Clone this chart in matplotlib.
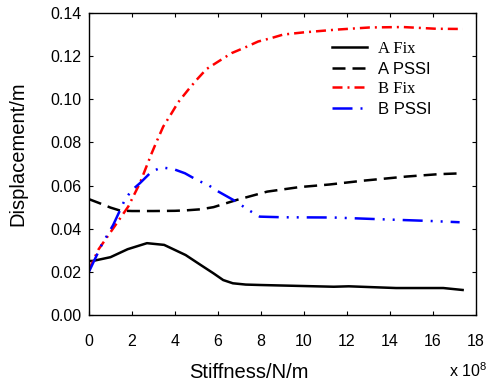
import matplotlib
matplotlib.use("Agg")
import matplotlib.pyplot as plt

plt.rcParams['font.family'] = ['Liberation Sans', 'DejaVu Sans']
plt.rcParams['mathtext.fontset'] = 'custom'
plt.rcParams['mathtext.rm'] = 'Liberation Sans'
plt.rcParams['mathtext.it'] = 'Liberation Sans'

# stiffness in units of 1e8 N/m, displacement in m
a_fix_x = [0, 0.2, 1.0, 1.8, 2.7, 3.5, 4.5, 5.2, 5.8, 6.25, 6.7, 7.3, 8.0, 9.7, 11.4, 12.1, 14.3, 16.5, 17.4]
a_fix_y = [0.0250, 0.0251, 0.0268, 0.0305, 0.0333, 0.0325, 0.0278, 0.0232, 0.0193, 0.0162, 0.0147, 0.0141,
           0.0139, 0.0135, 0.0131, 0.0133, 0.0125, 0.0125, 0.0116]

a_pssi_x = [0, 0.5, 1.0, 1.45, 2.0, 3.0, 4.0, 4.5, 5.2, 5.8, 6.9, 8.3, 9.8, 11.2, 12.8, 14.8, 16.3, 17.4]
a_pssi_y = [0.0537, 0.0518, 0.0498, 0.0484, 0.0482, 0.0482, 0.0483, 0.0485, 0.0490, 0.0500, 0.0534, 0.0572,
            0.0593, 0.0605, 0.0623, 0.0642, 0.0653, 0.0657]

b_fix_x = [0, 0.43, 1.13, 1.83, 2.37, 2.92, 3.15, 3.46, 3.85, 4.16, 4.62, 5.01, 5.47, 6.02, 6.64, 7.26,
           7.88, 8.5, 9.04, 9.97, 11.52, 13.07, 14.62, 16.17, 17.41]
b_fix_y = [0.0209, 0.0302, 0.0402, 0.0503, 0.0611, 0.0750, 0.0804, 0.0874, 0.0936, 0.0987, 0.1044, 0.1090,
           0.1140, 0.1175, 0.1214, 0.1240, 0.1268, 0.1284, 0.1300, 0.1310, 0.1323, 0.1333, 0.1335, 0.1327, 0.1326]

b_pssi_x = [0, 0.59, 1.13, 1.67, 1.98, 2.37, 2.92, 3.38, 3.92, 4.47, 5.08, 5.55, 5.94, 6.71, 7.49, 7.95,
            9.04, 11.36, 13.53, 15.86, 17.26]
b_pssi_y = [0.0201, 0.0325, 0.0418, 0.0534, 0.0577, 0.0611, 0.0665, 0.0684, 0.0677, 0.0657, 0.0623, 0.0603,
            0.0577, 0.0534, 0.0483, 0.0456, 0.0453, 0.0452, 0.0444, 0.0436, 0.0430]

x_ticks = [0, 2, 4, 6, 8, 10, 12, 14, 16, 18]
y_ticks = [0.00, 0.02, 0.04, 0.06, 0.08, 0.10, 0.12, 0.14]

fig = plt.figure(figsize=(4.86, 3.84), dpi=100)
ax = fig.add_axes([0.1831, 0.1797, 0.7953, 0.7864])

lw = 1.8
ax.plot(a_fix_x, a_fix_y, color="black", lw=lw, label="A Fix")
ax.plot(a_pssi_x, a_pssi_y, color="black", lw=lw, dashes=(5.2, 2.8), label="A PSSI")
ax.plot(b_fix_x, b_fix_y, color="red", lw=lw, dashes=(4, 2, 0.8, 2), label="B Fix")
ax.plot(b_pssi_x, b_pssi_y, color="blue", lw=lw, dashes=(8, 3.2, 0.8, 3.2, 0.8, 3.2), label="B PSSI")

ax.set_xlim(0, 18)
ax.set_ylim(0, 0.14)
ax.set_xticks(x_ticks)
ax.set_yticks(y_ticks)
ax.set_yticklabels([f"{v:.2f}" for v in y_ticks])
ax.tick_params(direction="in", top=True, right=True, length=3, width=0.8, labelsize=11.5)
ax.tick_params(axis="x", pad=13.5)
ax.tick_params(axis="y", pad=5.5)
for sp in ax.spines.values():
    sp.set_linewidth(1.0)

# axis labels sit where the original placed them
fig.text(0.512, 0.031, "Stiffness/N/m", ha="center", va="center", fontsize=14.5)
fig.text(0.036, 0.599, "Displacement/m", ha="center", va="center", rotation=90, fontsize=14.5)
fig.text(0.924, 0.018, r"x 10$^{8}$", ha="left", va="baseline", fontsize=11.5)

leg = ax.legend(loc="upper left", bbox_to_anchor=(0.683, 0.893), bbox_transform=fig.transFigure,
                frameon=False, fontsize=12, borderpad=0, borderaxespad=0, labelspacing=0.27,
                handlelength=2.1, handletextpad=0.66)
for t, fam in zip(leg.get_texts(), ["Liberation Serif", "Liberation Sans", "Liberation Serif", "Liberation Sans"]):
    t.set_fontfamily(fam)

fig.savefig("out.png", dpi=100)
